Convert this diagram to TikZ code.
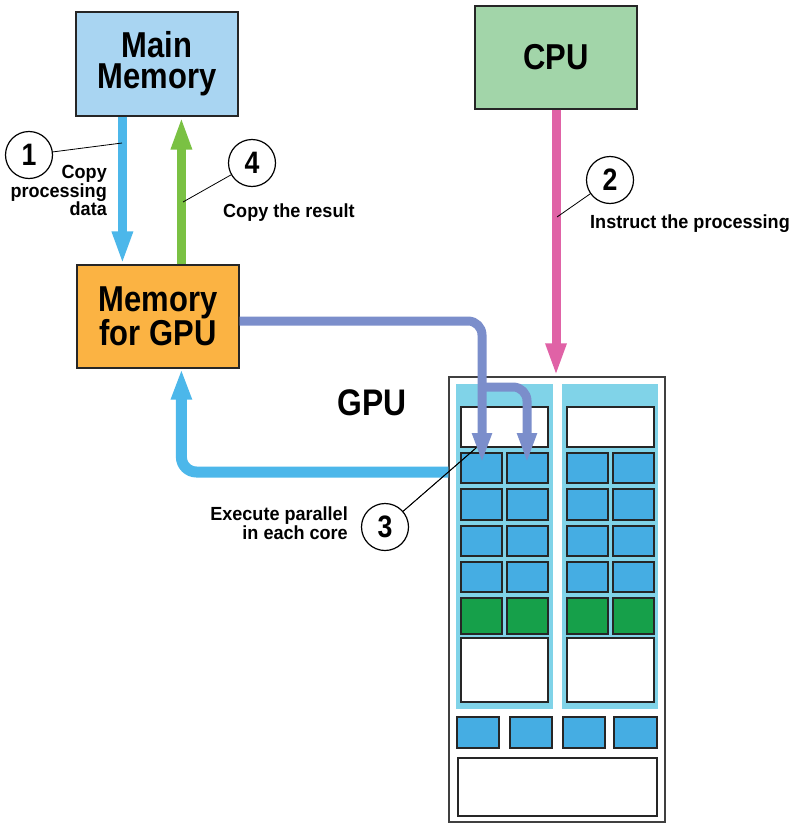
\documentclass[tikz,border=0pt]{standalone}
\usepackage{fontspec}
\usetikzlibrary{arrows.meta,calc}
\newfontfamily\headf[FakeStretch=0.86]{Liberation Sans}
\newfontfamily\smallf[FakeStretch=0.95]{Liberation Sans}
\newcommand\myBigFont{\headf\bfseries\fontsize{36}{31}\selectfont}
\newcommand\myGpuFont{\headf\bfseries\fontsize{37}{37}\selectfont}
\newcommand\mySmallFont{\smallf\bfseries\fontsize{19}{17.5}\selectfont}
\newcommand\myNumFont{\headf\bfseries\fontsize{31}{31}\selectfont}
\definecolor{mmfill}{HTML}{A9D5F2}
\definecolor{cpufill}{HTML}{A2D5A9}
\definecolor{gmfill}{HTML}{FBB343}
\definecolor{cblue}{HTML}{4CB7EA}
\definecolor{cgreen}{HTML}{7AC143}
\definecolor{cpink}{HTML}{E062A6}
\definecolor{cpurple}{HTML}{7B8ECB}
\definecolor{cyanp}{HTML}{80D3E8}
\definecolor{corec}{HTML}{45ADE3}
\definecolor{greenc}{HTML}{16A04A}
\begin{document}
\begin{tikzpicture}[x=1pt,y=-1pt,
  box/.style={draw=black!85, line width=1.2pt, minimum width=162pt, minimum height=104pt, inner sep=0pt, align=center, font=\myBigFont},
  num/.style={circle, draw=black, line width=1.2pt, fill=white, minimum size=47pt, inner sep=0pt, font=\myNumFont},
  lbl/.style={font=\mySmallFont, inner sep=0pt},
  leader/.style={draw=black, line width=0.8pt},
  cell/.style={draw=black!85, line width=1.1pt},
  fatarrow/.style={line width=9pt, -{Triangle[length=33pt,width=19pt]}},
  purparrow/.style={draw=cpurple, line width=9pt, rounded corners=14pt, -{Triangle[length=30pt,width=18pt]}}
]
\useasboundingbox (0,0) rectangle (800,827);
\fill[white] (0,0) rectangle (800,827);

% boxes
\node[box, fill=mmfill] (mm) at (157,64) {Main\\Memory};
\node[box, fill=gmfill, minimum height=103pt] (mg) at (158,316.5) {Memory\\for GPU};
\node[box, fill=cpufill, minimum height=103pt] (cpu) at (556,57.5) {CPU};
\node[draw=black!75, line width=1.5pt, minimum width=216pt, minimum height=445pt, inner sep=0pt] (gpu) at (557,599.5) {};
\node[font=\myGpuFont, inner sep=0pt, anchor=base] (gpulbl) at (372,415) {GPU};

% GPU internals
\fill[cyanp] (456,384) rectangle (553,709);
\fill[cyanp] (562,384) rectangle (658,709);
\foreach \o in {0,106}{
  \draw[cell, fill=white] (461+\o,407) rectangle (548+\o,447);
  \foreach \ya/\yb in {453/483, 489/520, 526/556, 562/592}{
    \draw[cell, fill=corec] (461+\o,\ya) rectangle (502+\o,\yb);
    \draw[cell, fill=corec] (507+\o,\ya) rectangle (548+\o,\yb);
  }
  \draw[cell, fill=greenc] (461+\o,598) rectangle (502+\o,634);
  \draw[cell, fill=greenc] (507+\o,598) rectangle (548+\o,634);
  \draw[cell, fill=white] (461+\o,638) rectangle (548+\o,702);
}
\foreach \a/\b in {457/499, 510/552, 563/605, 614/657}{
  \draw[cell, fill=corec] (\a,717) rectangle (\b,748);
}
\draw[cell, fill=white] (458,758) rectangle (657,816);

% arrows
\draw[fatarrow, draw=cblue] ([xshift=47pt]mm.south west) -- ([xshift=46pt]mg.north west);
\draw[fatarrow, draw=cgreen] ([xshift=105pt]mg.north west) -- ([xshift=106pt]mm.south west);
\draw[fatarrow, draw=cpink] (cpu.south) -- (cpu.south |- gpu.north);
\draw[line width=11pt, draw=cblue, rounded corners=15pt, -{Triangle[length=31pt,width=19pt]}]
  ([yshift=127.5pt]gpu.west) -| ([xshift=105pt]mg.south west);

\coordinate (t1) at (482,463);
\coordinate (t2) at (527,463);
\coordinate (split) at (482,387);
\coordinate (p1) at (122,143);
\coordinate (p4) at (183,202);
\coordinate (p2) at (557,217);
\coordinate (p3) at (476,448);

\draw[leader] (385,527) -- (p3);
\draw[purparrow] ([yshift=-4.5pt]mg.east) -| (t1);
\draw[purparrow] (split) -| (t2);

% numbered circles
\node[num] (n1) at (29,155) {1};
\node[num] (n4) at (252,163) {4};
\node[num] (n2) at (610,180) {2};
\node[num] (n3) at (385,527) {3};
\draw[leader] (n1) -- (p1);
\draw[leader] (n4) -- (p4);
\draw[leader] (n2) -- (p2);
\draw[leader] (n3) -- (p3);

% labels
\node[lbl, align=right, anchor=north east] (l1) at (107,165) {Copy\\processing\\data};
\node[lbl, anchor=base west] (l4) at (223,217) {Copy the result};
\node[lbl, anchor=base west] (l2) at (590,228) {Instruct the processing};
\node[lbl, align=right, anchor=north east] (l3) at (348,507) {Execute parallel\\in each core};
\end{tikzpicture}
\end{document}
